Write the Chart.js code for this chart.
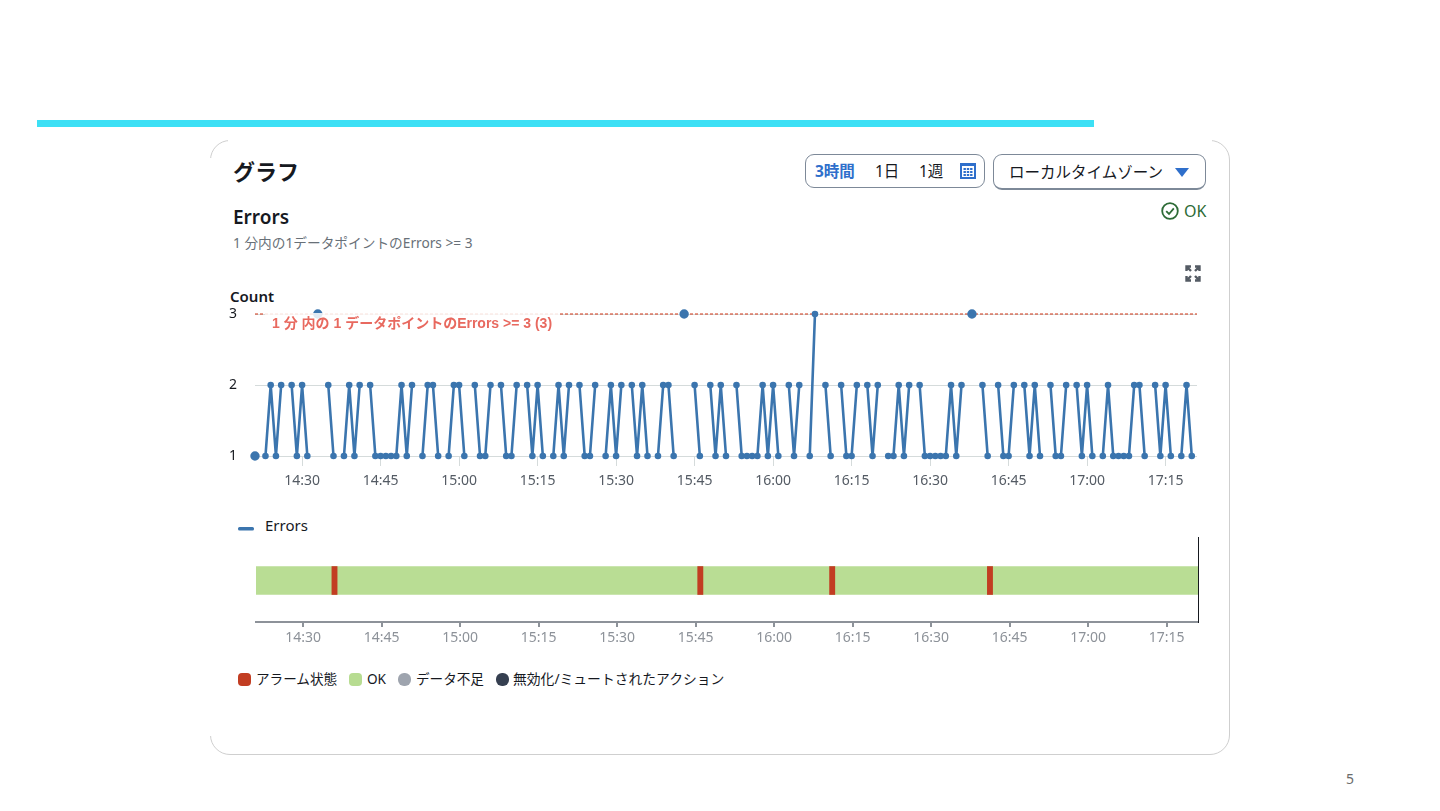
<!DOCTYPE html>
<html lang="ja">
<head>
<meta charset="utf-8">
<title>Errors</title>
<script src="https://cdn.jsdelivr.net/npm/chart.js"></script>
<style>
  html, body { margin: 0; padding: 0; background: #fff; }
  body { width: 1440px; height: 811px; position: relative; overflow: hidden; font-family: "Noto Sans", "Noto Sans CJK JP", sans-serif; color: #16191f; }
  .abs { position: absolute; white-space: nowrap; }
  #topbar { left: 37px; top: 120px; width: 1057px; height: 7px; background: #3de0f5; }
  #card { left: 210px; top: 140px; width: 1018px; height: 613px; border: 1px solid #cfcfcf; border-radius: 20px; background: #fff; }
  .mask { background: #fff; }
  canvas { position: absolute; }
  .btn { border: 1px solid #7d8998; border-radius: 9px; box-sizing: border-box; background: #fff; }
  .sw { width: 13px; height: 13px; border-radius: 4px; top: 673px; }
  .lg { top: 670px; font-size: 13.6px; line-height: 18px; color: #16191f; }
</style>
</head>
<body>
<div class="abs" id="topbar"></div>
<div class="abs" id="card"></div>
<div class="abs mask" style="left:228px;top:138px;width:984px;height:5px;"></div>
<div class="abs mask" style="left:208px;top:158px;width:5px;height:578px;"></div>

<div class="abs" style="left:233px;top:156px;font-size:22px;line-height:30px;font-weight:700;">グラフ</div>
<div class="abs" style="left:233px;top:204px;font-size:19px;line-height:26px;font-weight:600;">Errors</div>
<div class="abs" style="left:233px;top:234px;font-size:13.7px;line-height:18px;color:#687078;">1 分内の1データポイントのErrors &gt;= 3</div>

<div class="abs btn" style="left:805px;top:154px;width:180px;height:34px;"></div>
<div class="abs" style="left:815px;top:161px;font-size:15.5px;line-height:20px;font-weight:700;color:#2f6fcb;">3時間</div>
<div class="abs" style="left:875px;top:161px;font-size:15.5px;line-height:20px;">1日</div>
<div class="abs" style="left:919px;top:161px;font-size:15.5px;line-height:20px;">1週</div>
<svg class="abs" style="left:960px;top:163px;" width="16" height="16" viewBox="0 0 16 16"><rect width="16" height="16" fill="#2f6fcb"/><rect x="2" y="3" width="12" height="11" fill="#fff"/><g fill="#2f6fcb"><rect x="3.5" y="5" width="2.4" height="2"/><rect x="6.8" y="5" width="2.4" height="2"/><rect x="10.1" y="5" width="2.4" height="2"/><rect x="3.5" y="8" width="2.4" height="2"/><rect x="6.8" y="8" width="2.4" height="2"/><rect x="10.1" y="8" width="2.4" height="2"/><rect x="3.5" y="11" width="2.4" height="2"/><rect x="6.8" y="11" width="2.4" height="2"/><rect x="10.1" y="11" width="2.4" height="2"/></g></svg>

<div class="abs btn" style="left:993px;top:154px;width:213px;height:36px;border-bottom-width:2px;"></div>
<div class="abs" style="left:1009px;top:162px;font-size:15.5px;line-height:20px;">ローカルタイムゾーン</div>
<svg class="abs" style="left:1175px;top:168px;" width="14" height="9" viewBox="0 0 14 9"><path d="M0 0H14L7 9Z" fill="#2f6fcb"/></svg>

<svg class="abs" style="left:1161px;top:202px;" width="18" height="18" viewBox="0 0 18 18"><circle cx="9" cy="9" r="7.8" fill="none" stroke="#2d6b36" stroke-width="1.8"/><path d="M5.2 9.2L8 12L12.8 6.4" fill="none" stroke="#2d6b36" stroke-width="1.8"/></svg>
<div class="abs" style="left:1184px;top:200px;font-size:16px;line-height:22px;color:#2d6b36;">OK</div>

<svg class="abs" style="left:1185px;top:265px;" width="16" height="17" viewBox="0 0 16 17"><g fill="none" stroke="#545b64" stroke-width="2.4"><path d="M6 1.5H1.5V6M10 1.5H14.5V6M6 15.5H1.5V11M10 15.5H14.5V11M2 2L6 6M14 2L10 6M2 15L6 11M14 15L10 11"/></g></svg>

<div class="abs" style="left:230px;top:286px;font-size:15px;line-height:20px;font-weight:600;">Count</div>

<canvas id="errorsChart" width="990" height="201" style="left:220px;top:300px;"></canvas>
<div class="abs" style="left:265px;top:313px;width:288px;padding:1px 0 0 7px;font-family:'Liberation Sans','Noto Sans CJK JP',sans-serif;font-size:14px;line-height:18px;font-weight:700;color:#e8695f;background:rgba(255,255,255,.85);">1 分 内の 1 データポイントのErrors &gt;= 3 (3)</div>

<svg class="abs" style="left:238px;top:526px;" width="16" height="6"><rect width="16" height="3.6" y="1" rx="1.5" fill="#3b75ae"/></svg>
<div class="abs" style="left:265px;top:515px;font-size:15px;line-height:20px;">Errors</div>

<canvas id="stateChart" width="990" height="135" style="left:221px;top:530px;"></canvas>

<div class="abs sw" style="left:238px;background:#c23d22;"></div>
<div class="abs lg" style="left:256px;">アラーム状態</div>
<div class="abs sw" style="left:349px;background:#b7dc91;"></div>
<div class="abs lg" style="left:367px;">OK</div>
<div class="abs sw" style="left:398px;background:#9ea4ae;border-radius:6px;"></div>
<div class="abs lg" style="left:416px;">データ不足</div>
<div class="abs sw" style="left:496px;background:#353f50;border-radius:6px;"></div>
<div class="abs lg" style="left:513px;font-size:13.8px;">無効化/ミュートされたアクション</div>

<div class="abs" style="left:1346px;top:769px;font-size:14px;line-height:20px;color:#6b6b6b;">5</div>

<script>
// minutes since midnight, window is 14:21 - 17:21
const windowStart = 861;
const windowEnd = 1041;
const tickMinutes = [870, 885, 900, 915, 930, 945, 960, 975, 990, 1005, 1020, 1035];
const tickLabels = ['14:30', '14:45', '15:00', '15:15', '15:30', '15:45', '16:00', '16:15', '16:30', '16:45', '17:00', '17:15'];

// one value per minute from 14:21, null where nothing was reported
const errorValues = [
  1, null, 1, 2, 1, 2, null, 2, 1, 2, 1, null, 3, null, 2, 1, null, 1, 2, 1,
  2, null, 2, 1, 1, 1, 1, 1, 2, 1, 2, null, 1, 2, 2, 1, null, 1, 2, 2,
  1, null, 2, 1, 1, 2, null, 2, 1, 1, 2, null, 2, 1, 2, 1, null, 1, 2, 1,
  2, null, 2, 1, 1, 2, null, 1, 2, 1, 2, null, 2, 1, 2, 1, null, 1, 2, 2,
  1, null, 3, null, 2, 1, null, 2, 1, 2, 1, null, 2, 1, 1, 1, 1, 2, 1, 2,
  1, null, 2, 1, 2, null, 1, 3, null, 2, 1, null, 2, 1, 1, 2, null, 2, 1, 2,
  null, 1, 1, 2, 1, 2, null, 2, 1, 1, 1, 1, 1, 2, 1, 2, null, 3, null, 2,
  1, null, 2, 1, 1, 2, null, 2, 1, 2, 1, null, 2, 1, 1, 2, null, 2, 1, 2,
  1, null, 1, 2, 1, 1, 1, 1, 2, 2, 1, null, 2, 1, 2, 1, null, 1, 2, 1
];
const thresholdValue = 3;

const okSpan = [861, 1041];
const alarmSpans = [[875.5, 876.5], [945.4, 946.4], [970.6, 971.6], [1000.75, 1001.75]];

const fontFamily = '"Noto Sans", "Noto Sans CJK JP", sans-serif';
const errorPoints = errorValues.map((v, i) => ({ x: windowStart + i, y: v }));

function isIsolated(i) {
  return errorValues[i] !== null && errorValues[i - 1] == null && errorValues[i + 1] == null;
}

const sharedTicks = (scale) => { scale.ticks = tickMinutes.map((value) => ({ value })); };
const tickText = (value) => tickLabels[tickMinutes.indexOf(value)] ?? '';

new Chart(document.getElementById('errorsChart'), {
  type: 'line',
  data: {
    datasets: [
      {
        label: 'Errors',
        data: errorPoints,
        borderColor: '#3b75ae',
        backgroundColor: '#3b75ae',
        borderWidth: 2.6,
        tension: 0,
        spanGaps: false,
        clip: false,
        pointRadius: (ctx) => (isIsolated(ctx.dataIndex) ? 3.4 : 2),
        order: 1,
      },
      {
        label: 'threshold',
        data: [{ x: windowStart, y: thresholdValue }, { x: windowEnd, y: thresholdValue }],
        borderColor: '#d13212',
        borderWidth: 1,
        borderDash: [3, 2],
        pointRadius: 0,
        clip: false,
        order: 2,
      },
    ],
  },
  options: {
    responsive: false,
    animation: false,
    layout: { padding: { top: 14, right: 13, bottom: 0, left: 0 } },
    plugins: { legend: { display: false }, tooltip: { enabled: false } },
    scales: {
      x: {
        type: 'linear',
        min: windowStart,
        max: windowEnd,
        afterBuildTicks: sharedTicks,
        afterFit: (scale) => { scale.height = 45; },
        grid: { drawOnChartArea: false, color: '#d5dbdb', tickLength: 10 },
        border: { display: false },
        ticks: { callback: tickText, color: '#545b64', font: { size: 14, family: fontFamily }, maxRotation: 0, autoSkip: false, padding: 7 },
      },
      y: {
        min: 1,
        max: 3,
        afterFit: (scale) => { scale.width = 35; },
        // labels sit 18px left of the plot, tick padding would also push the plot top down
        grid: { color: '#d5dbdb', tickColor: 'transparent', tickLength: 18 },
        border: { display: false },
        ticks: { stepSize: 1, color: '#16191f', font: { size: 14, family: fontFamily }, padding: 0 },
      },
    },
  },
});

new Chart(document.getElementById('stateChart'), {
  type: 'bar',
  data: {
    datasets: [
      ...alarmSpans.map((span) => ({
        label: 'アラーム状態',
        data: [{ x: span, y: 0 }],
        backgroundColor: '#c23d22',
        grouped: false,
        barThickness: 28,
        order: 1,
      })),
      { label: 'OK', data: [{ x: okSpan, y: 0 }], backgroundColor: '#b9dd94', grouped: false, barThickness: 28, order: 2 },
    ],
  },
  options: {
    indexAxis: 'y',
    responsive: false,
    animation: false,
    layout: { padding: { top: 7, right: 13, bottom: 0, left: 0 } },
    plugins: { legend: { display: false }, tooltip: { enabled: false } },
    scales: {
      x: {
        type: 'linear',
        min: windowStart,
        max: windowEnd,
        afterBuildTicks: sharedTicks,
        afterFit: (scale) => { scale.height = 43; },
        grid: { drawOnChartArea: false, color: '#8d9299', tickLength: 5, lineWidth: 2 },
        border: { color: '#8d9299', width: 2 },
        ticks: { callback: tickText, color: '#8d9299', font: { size: 14, family: fontFamily }, maxRotation: 0, autoSkip: false, padding: 3 },
      },
      y: {
        type: 'linear',
        min: -0.482,
        max: 0.518,
        position: 'right',
        afterFit: (scale) => { scale.width = 0; },
        grid: { display: false },
        border: { color: '#16191f', width: 1 },
        ticks: { display: false },
      },
      left: {
        position: 'left',
        display: true,
        afterFit: (scale) => { scale.width = 35; },
        grid: { display: false },
        border: { display: false },
        ticks: { display: false },
      },
    },
  },
});
</script>
</body>
</html>
